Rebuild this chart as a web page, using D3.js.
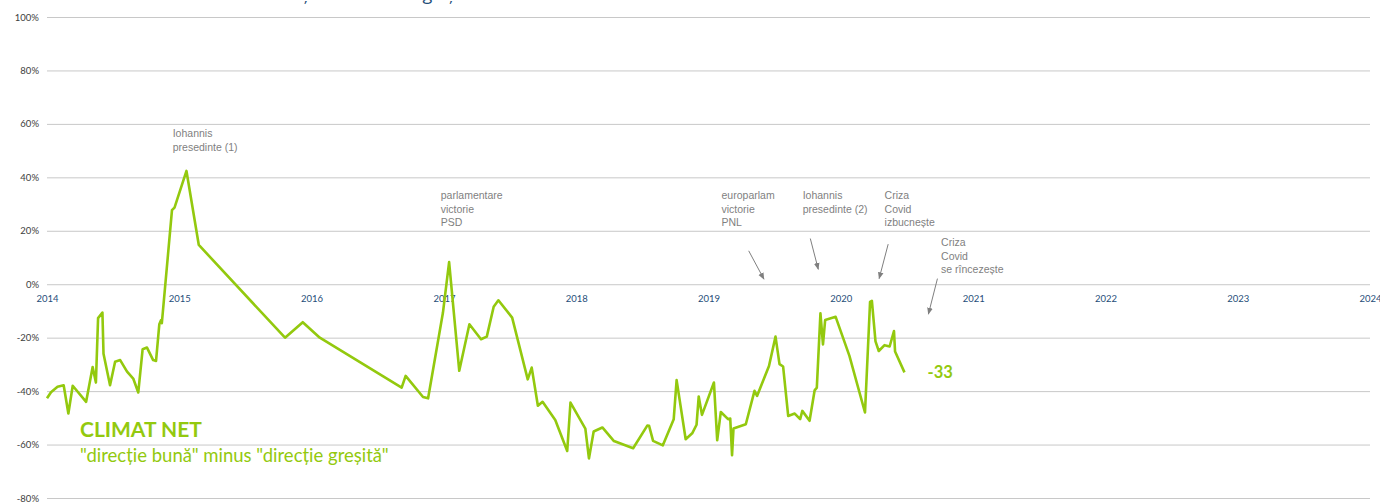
<!DOCTYPE html>
<html>
<head>
<meta charset="utf-8">
<script src="https://cdn.jsdelivr.net/npm/d3@7"></script>
<style>
    body { margin: 0; background: #fff; }
    #chart-area { width: 1380px; height: 502px; overflow: hidden; }
    svg { display: block; }
</style>
</head>
<body>
<div id="chart-area"></div>
<script>

/* * * * * * * * * * * * * *
*        data arrays        *
* * * * * * * * * * * * * */

// survey dates and "climat net" values (% good direction minus % wrong direction)
const pollDates = [
    "2014-01-01", "2014-01-12", "2014-01-30", "2014-02-16", "2014-03-01", "2014-03-13", "2014-04-19",
    "2014-05-07", "2014-05-16", "2014-05-22", "2014-06-03", "2014-06-06", "2014-06-24", "2014-07-08",
    "2014-07-22", "2014-08-10", "2014-08-27", "2014-09-10", "2014-09-22", "2014-10-04", "2014-10-21",
    "2014-10-29", "2014-11-07", "2014-11-12", "2014-11-14", "2014-12-12", "2014-12-19", "2015-01-21",
    "2015-02-24", "2015-10-20", "2015-12-08", "2016-01-24", "2016-09-06", "2016-09-17", "2016-11-04",
    "2016-11-18", "2016-12-29", "2017-01-15", "2017-02-12", "2017-03-12", "2017-04-13", "2017-04-29",
    "2017-05-18", "2017-05-31", "2017-07-08", "2017-08-20", "2017-08-31", "2017-09-17", "2017-09-30",
    "2017-11-04", "2017-12-07", "2017-12-16", "2018-01-26", "2018-02-05", "2018-02-18", "2018-03-14",
    "2018-04-15", "2018-06-07", "2018-07-16", "2018-07-21", "2018-08-01", "2018-08-28", "2018-09-27",
    "2018-10-05", "2018-10-30", "2018-11-17", "2018-11-29", "2018-12-05", "2018-12-14", "2019-01-16",
    "2019-01-25", "2019-02-04", "2019-02-24", "2019-03-02", "2019-03-07", "2019-03-11", "2019-04-14",
    "2019-05-08", "2019-05-15", "2019-06-17", "2019-07-05", "2019-07-16", "2019-07-26", "2019-08-09",
    "2019-08-27", "2019-09-11", "2019-09-17", "2019-10-07", "2019-10-21", "2019-10-27", "2019-11-06",
    "2019-11-13", "2019-11-19", "2019-12-18", "2020-01-25", "2020-03-08", "2020-03-22", "2020-03-27",
    "2020-04-06", "2020-04-15", "2020-05-01", "2020-05-15", "2020-05-27", "2020-05-30", "2020-06-25"
];

const climatNet = [
    -42.7, -40.4, -38.4, -37.8, -48.4, -38.0, -44.0,
    -31.0, -36.8, -12.7, -10.6, -26.0, -37.8, -29.0,
    -28.4, -32.7, -35.3, -40.5, -24.3, -23.7, -28.4,
    -28.7, -15.0, -13.4, -14.6, 27.7, 28.7, 42.4,
    14.7, -20.0, -14.2, -20.0, -38.7, -34.3, -42.2,
    -42.7, -10.6, 8.3, -32.4, -15.0, -20.6, -19.6,
    -8.4, -6.0, -12.5, -35.6, -31.2, -45.5, -44.0,
    -50.8, -62.4, -44.3, -54.0, -65.2, -55.1, -53.6,
    -58.7, -61.4, -52.9, -53.0, -58.6, -60.3, -50.5,
    -35.9, -58.0, -55.8, -52.6, -42.0, -48.9, -36.8,
    -58.4, -47.8, -50.5, -50.3, -64.0, -54.0, -52.4,
    -39.9, -41.8, -30.6, -19.6, -29.9, -30.8, -49.3,
    -48.4, -50.5, -47.4, -51.1, -39.7, -38.7, -10.9,
    -22.5, -13.4, -12.2, -26.8, -48.0, -6.6, -6.2,
    -21.4, -25.0, -22.8, -23.3, -17.5, -25.2, -33.0
];

// axis ticks
const yTicks = [-80, -60, -40, -20, 0, 20, 40, 60, 80, 100];
const yearTicks = ["2014", "2015", "2016", "2017", "2018", "2019", "2020", "2021", "2022", "2023", "2024"];

// event annotations: text anchor (date, value) and arrow (from -> to)
const eventLabels = [
    ["Iohannis", "presedinte (1)"],
    ["parlamentare", "victorie", "PSD"],
    ["europarlam", "victorie", "PNL"],
    ["Iohannis", "presedinte (2)"],
    ["Criza", "Covid", "izbucnește"],
    ["Criza", "Covid", "se rîncezește"]
];
const eventTextAt = [
    ["2014-12-14", 55.0],
    ["2016-12-23", 31.8],
    ["2019-02-06", 31.8],
    ["2019-09-18", 31.8],
    ["2020-05-01", 31.8],
    ["2020-10-04", 14.2]
];
const eventArrows = [
    null,
    null,
    [["2019-04-22", 12.5], ["2019-06-03", 1.9]],
    [["2019-10-09", 17.1], ["2019-10-31", 5.6]],
    [["2020-05-11", 15.0], ["2020-04-16", 2.1]],
    [["2020-09-24", 2.1], ["2020-08-30", -11.2]]
];

const chartTitle = "Direcția în care merge țara";
const seriesTitle = "CLIMAT NET";
const seriesSubtitle = "\"direcție bună\" minus \"direcție greșită\"";


/* * * * * * * * * * * * * *
*        ClimatChart        *
* * * * * * * * * * * * * */

class ClimatChart {

    constructor(_parentElement) {
        this.parentElement = _parentElement;
        this.displayData = [];

        this.initVis();
    }

    initVis() {
        let vis = this;

        vis.margin = {top: 17, right: 10, bottom: 4, left: 47};
        vis.width = 1380 - vis.margin.left - vis.margin.right;
        vis.height = 502 - vis.margin.top - vis.margin.bottom;

        vis.green = "#93c90e";
        vis.grey = "#7f7f7f";

        vis.root = d3.select("#" + vis.parentElement).append("svg")
            .attr("width", 1380)
            .attr("height", 502);

        vis.svg = vis.root.append("g")
            .attr("transform", "translate(" + vis.margin.left + "," + vis.margin.top + ")");

        // title, cut at the top edge (only descenders show)
        vis.root.append("text")
            .attr("x", 258)
            .attr("y", -0.5)
            .style("font-family", "'Open Sans', sans-serif")
            .style("font-size", "18px")
            .style("fill", "#1f4e79")
            .text(chartTitle);

        vis.parseDate = d3.timeParse("%Y-%m-%d");

        // Scales
        vis.x = d3.scaleTime()
            .domain([vis.parseDate("2014-01-01"), vis.parseDate("2024-01-01")])
            .range([0, vis.width]);

        vis.y = d3.scaleLinear()
            .domain([-80, 100])
            .range([vis.height, 0]);

        // horizontal grid + y labels
        vis.yAxis = d3.axisLeft(vis.y)
            .tickValues(yTicks)
            .tickSize(-vis.width)
            .tickPadding(8)
            .tickFormat(d => d + "%");

        vis.svg.append("g")
            .attr("class", "y-axis")
            .call(vis.yAxis)
            .call(g => g.select(".domain").remove())
            .call(g => g.selectAll("line").attr("stroke", "#c8c8c8").attr("stroke-width", 1))
            .call(g => g.selectAll("text")
                .style("font-family", "Lato, sans-serif")
                .style("font-size", "9.5px")
                .style("fill", "#404040"));

        // year labels sit just under the 0% line
        vis.xAxis = d3.axisBottom(vis.x)
            .tickValues(yearTicks.map(d => vis.parseDate(d + "-01-01")))
            .tickSize(0)
            .tickPadding(0)
            .tickFormat(d3.timeFormat("%Y"));

        vis.svg.append("g")
            .attr("class", "x-axis")
            .attr("transform", "translate(0," + (vis.y(0) + 11) + ")")
            .call(vis.xAxis)
            .call(g => g.select(".domain").remove())
            .call(g => g.selectAll("text")
                .attr("dy", "0.71em")
                .style("font-family", "Lato, sans-serif")
                .style("font-size", "9.5px")
                .style("fill", "#1f4e79"));

        // arrow head
        vis.root.append("defs").append("marker")
            .attr("id", "arrowHead")
            .attr("viewBox", "0 0 10 10")
            .attr("refX", 9)
            .attr("refY", 5)
            .attr("markerWidth", 7)
            .attr("markerHeight", 7)
            .attr("orient", "auto")
            .append("path")
            .attr("d", "M0,1 L10,5 L0,9 Z")
            .attr("fill", vis.grey);

        vis.wrangleData();
    }


    /*
     * Data wrangling
     */
    wrangleData() {
        let vis = this;

        vis.displayData = pollDates.map((d, i) => {
            return {date: vis.parseDate(d), value: climatNet[i]};
        });

        vis.events = eventLabels.map((lines, i) => {
            return {
                lines: lines,
                date: vis.parseDate(eventTextAt[i][0]),
                value: eventTextAt[i][1],
                arrow: eventArrows[i] ? eventArrows[i].map(p => ({date: vis.parseDate(p[0]), value: p[1]})) : null
            };
        });

        vis.updateVis();
    }


    /*
     * The drawing function
     */
    updateVis() {
        let vis = this;

        vis.line = d3.line()
            .x(d => vis.x(d.date))
            .y(d => vis.y(d.value));

        vis.svg.append("path")
            .datum(vis.displayData)
            .attr("class", "climat-line")
            .attr("fill", "none")
            .attr("stroke", vis.green)
            .attr("stroke-width", 2.6)
            .attr("stroke-linejoin", "round")
            .attr("d", vis.line);

        // last value label (plain hyphen, like the original)
        let last = vis.displayData[vis.displayData.length - 1];
        vis.svg.append("text")
            .attr("x", vis.x(last.date) + 23)
            .attr("y", vis.y(last.value))
            .attr("dy", "0.35em")
            .style("font-family", "Lato, sans-serif")
            .style("font-weight", "bold")
            .style("font-size", "16.5px")
            .style("fill", vis.green)
            .text(String(Math.round(last.value)));

        // annotations
        let ev = vis.svg.selectAll(".event")
            .data(vis.events)
            .enter()
            .append("g")
            .attr("class", "event");

        ev.append("text")
            .attr("x", d => vis.x(d.date))
            .attr("y", d => vis.y(d.value))
            .style("font-family", "'Liberation Sans', Arial, sans-serif")
            .style("font-size", "10.5px")
            .style("fill", vis.grey)
            .selectAll("tspan")
            .data(d => d.lines.map(l => ({line: l, x: vis.x(d.date)})))
            .enter()
            .append("tspan")
            .attr("x", d => d.x)
            .attr("dy", (d, i) => i === 0 ? 0 : 13.5)
            .text(d => d.line);

        ev.filter(d => d.arrow !== null)
            .append("line")
            .attr("x1", d => vis.x(d.arrow[0].date))
            .attr("y1", d => vis.y(d.arrow[0].value))
            .attr("x2", d => vis.x(d.arrow[1].date))
            .attr("y2", d => vis.y(d.arrow[1].value))
            .attr("stroke", vis.grey)
            .attr("stroke-width", 1)
            .attr("marker-end", "url(#arrowHead)");

        // series legend text
        vis.svg.append("text")
            .attr("x", 80 - vis.margin.left)
            .attr("y", vis.y(-57))
            .style("font-family", "Lato, sans-serif")
            .style("font-weight", "bold")
            .style("font-size", "21px")
            .style("fill", vis.green)
            .text(seriesTitle);

        vis.svg.append("text")
            .attr("x", 80 - vis.margin.left)
            .attr("y", vis.y(-66.5))
            .style("font-family", "Lato, sans-serif")
            .style("font-size", "18.5px")
            .style("fill", vis.green)
            .text(seriesSubtitle);
    }
}

let climatChart = new ClimatChart("chart-area");

</script>
</body>
</html>
